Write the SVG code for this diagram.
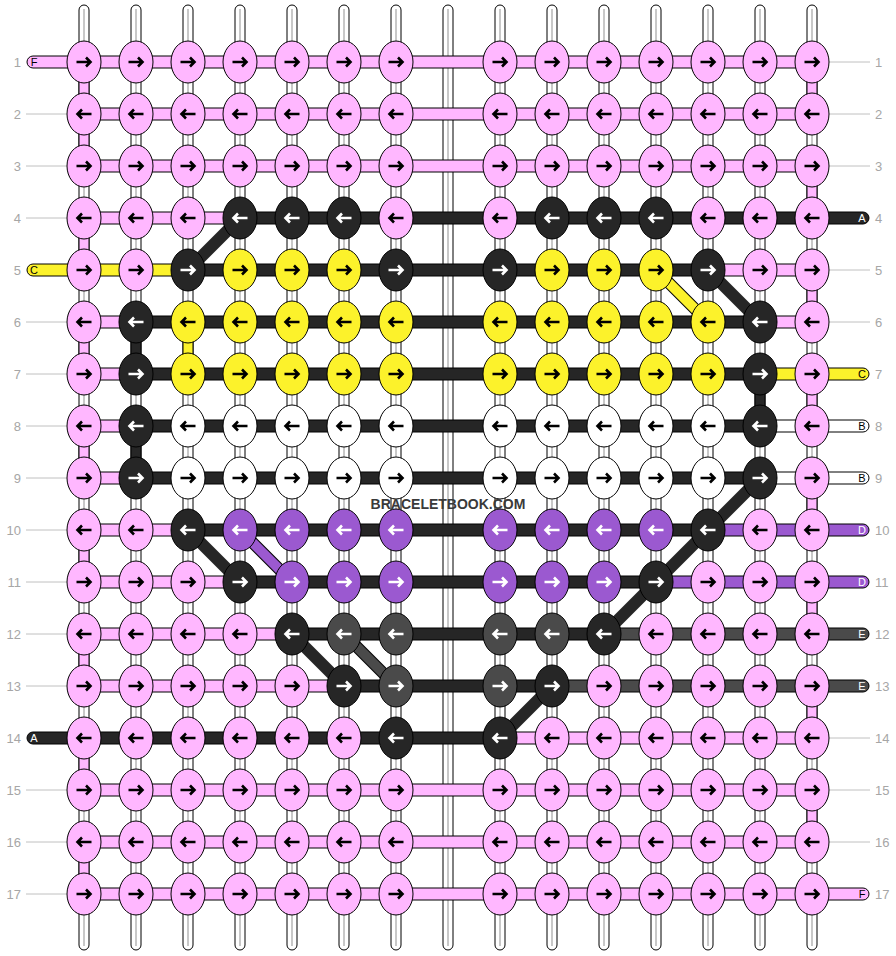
<svg xmlns="http://www.w3.org/2000/svg" width="896" height="956" viewBox="0 0 896 956">
<style>
rect,ellipse,.cap{stroke:#000;stroke-width:1}
.p{fill:#ffb7ff}.y{fill:#fcf22b}.b{fill:#262626}.g{fill:#4a4a4a}.u{fill:#9b59d0}.w{fill:#fff}
.t{fill:#fff}
.tl{stroke:#c8c8c8;stroke-width:2}
use{fill:none;stroke:#000;stroke-width:2.6}
.b use,.g use,.u use{stroke:#fff}
.ll{stroke:#c0c0c0;stroke-width:1}
.lbl{font-family:"Liberation Sans",Arial,sans-serif;font-size:13px;fill:#a6a6a6}
.le{text-anchor:end}
.cl{font-family:"Liberation Sans",Arial,sans-serif;font-size:11px;text-anchor:middle;fill:#000}
.cw{fill:#fff}
.dk{stroke:#262626;stroke-width:12}
.do{stroke:#000;stroke-width:12}
.dy{stroke:#fcf22b;stroke-width:10}
.du{stroke:#9b59d0;stroke-width:10}
.dg{stroke:#4a4a4a;stroke-width:10}
.wm{font-family:"Liberation Sans",Arial,sans-serif;font-size:14px;font-weight:bold;fill:#3a3a3a;text-anchor:middle}
</style>
<defs>
<path id="R" d="M-7.5,0H6.5M2,-4.5L6.5,0L2,4.5"/>
<path id="L" d="M7.5,0H-6.5M-2,-4.5L-6.5,0L-2,4.5"/>
</defs>
<g id="connectors">
<g id="tubes">
<rect class="t" x="79" y="5" width="10" height="945" rx="5"/><line class="tl" x1="84" y1="9" x2="84" y2="946"/>
<rect class="t" x="131" y="5" width="10" height="945" rx="5"/><line class="tl" x1="136" y1="9" x2="136" y2="946"/>
<rect class="t" x="183" y="5" width="10" height="945" rx="5"/><line class="tl" x1="188" y1="9" x2="188" y2="946"/>
<rect class="t" x="235" y="5" width="10" height="945" rx="5"/><line class="tl" x1="240" y1="9" x2="240" y2="946"/>
<rect class="t" x="287" y="5" width="10" height="945" rx="5"/><line class="tl" x1="292" y1="9" x2="292" y2="946"/>
<rect class="t" x="339" y="5" width="10" height="945" rx="5"/><line class="tl" x1="344" y1="9" x2="344" y2="946"/>
<rect class="t" x="391" y="5" width="10" height="945" rx="5"/><line class="tl" x1="396" y1="9" x2="396" y2="946"/>
<rect class="t" x="443" y="5" width="10" height="945" rx="5"/><line class="tl" x1="448" y1="9" x2="448" y2="946"/>
<rect class="t" x="495" y="5" width="10" height="945" rx="5"/><line class="tl" x1="500" y1="9" x2="500" y2="946"/>
<rect class="t" x="547" y="5" width="10" height="945" rx="5"/><line class="tl" x1="552" y1="9" x2="552" y2="946"/>
<rect class="t" x="599" y="5" width="10" height="945" rx="5"/><line class="tl" x1="604" y1="9" x2="604" y2="946"/>
<rect class="t" x="651" y="5" width="10" height="945" rx="5"/><line class="tl" x1="656" y1="9" x2="656" y2="946"/>
<rect class="t" x="703" y="5" width="10" height="945" rx="5"/><line class="tl" x1="708" y1="9" x2="708" y2="946"/>
<rect class="t" x="755" y="5" width="10" height="945" rx="5"/><line class="tl" x1="760" y1="9" x2="760" y2="946"/>
<rect class="t" x="807" y="5" width="10" height="945" rx="5"/><line class="tl" x1="812" y1="9" x2="812" y2="946"/>
</g>
<g id="labellines">
<line class="ll" x1="26" y1="114" x2="84" y2="114"/><line class="ll" x1="26" y1="166" x2="84" y2="166"/><line class="ll" x1="26" y1="218" x2="84" y2="218"/>
<line class="ll" x1="26" y1="322" x2="84" y2="322"/><line class="ll" x1="26" y1="374" x2="84" y2="374"/><line class="ll" x1="26" y1="426" x2="84" y2="426"/>
<line class="ll" x1="26" y1="478" x2="84" y2="478"/><line class="ll" x1="26" y1="530" x2="84" y2="530"/><line class="ll" x1="26" y1="582" x2="84" y2="582"/>
<line class="ll" x1="26" y1="634" x2="84" y2="634"/><line class="ll" x1="26" y1="686" x2="84" y2="686"/><line class="ll" x1="26" y1="790" x2="84" y2="790"/>
<line class="ll" x1="26" y1="842" x2="84" y2="842"/><line class="ll" x1="26" y1="894" x2="84" y2="894"/>
<line class="ll" x1="812" y1="62" x2="870" y2="62"/><line class="ll" x1="812" y1="114" x2="870" y2="114"/><line class="ll" x1="812" y1="166" x2="870" y2="166"/>
<line class="ll" x1="812" y1="270" x2="870" y2="270"/><line class="ll" x1="812" y1="322" x2="870" y2="322"/><line class="ll" x1="812" y1="738" x2="870" y2="738"/>
<line class="ll" x1="812" y1="790" x2="870" y2="790"/><line class="ll" x1="812" y1="842" x2="870" y2="842"/>
</g>
<g id="verticals">
<rect class="p" x="79" y="62" width="10" height="52"/><rect class="p" x="79" y="114" width="10" height="52"/>
<rect class="p" x="79" y="218" width="10" height="52"/><rect class="p" x="79" y="322" width="10" height="52"/>
<rect class="p" x="79" y="426" width="10" height="52"/><rect class="p" x="79" y="530" width="10" height="52"/>
<rect class="p" x="79" y="634" width="10" height="52"/><rect class="p" x="79" y="738" width="10" height="52"/>
<rect class="p" x="79" y="842" width="10" height="52"/>
<rect class="p" x="807" y="62" width="10" height="52"/><rect class="p" x="807" y="166" width="10" height="52"/>
<rect class="p" x="807" y="270" width="10" height="52"/><rect class="p" x="807" y="374" width="10" height="52"/>
<rect class="p" x="807" y="478" width="10" height="52"/><rect class="p" x="807" y="582" width="10" height="52"/>
<rect class="p" x="807" y="686" width="10" height="52"/><rect class="p" x="807" y="790" width="10" height="52"/>
<rect class="b" x="131" y="322" width="10" height="52"/><rect class="b" x="131" y="426" width="10" height="52"/>
<rect class="y" x="183" y="322" width="10" height="52"/><rect class="b" x="755" y="374" width="10" height="52"/>
</g>
<g id="ends">
<path class="cap p" d="M84,56H33A6,6 0 0 0 33,68H84Z"/>
<path class="cap y" d="M84,264H33A6,6 0 0 0 33,276H84Z"/>
<path class="cap b" d="M84,732H33A6,6 0 0 0 33,744H84Z"/>
<path class="cap b" d="M812,212H863A6,6 0 0 1 863,224H812Z"/>
<path class="cap y" d="M812,368H863A6,6 0 0 1 863,380H812Z"/>
<path class="cap w" d="M812,420H863A6,6 0 0 1 863,432H812Z"/>
<path class="cap w" d="M812,472H863A6,6 0 0 1 863,484H812Z"/>
<path class="cap u" d="M812,524H863A6,6 0 0 1 863,536H812Z"/>
<path class="cap u" d="M812,576H863A6,6 0 0 1 863,588H812Z"/>
<path class="cap g" d="M812,628H863A6,6 0 0 1 863,640H812Z"/>
<path class="cap g" d="M812,680H863A6,6 0 0 1 863,692H812Z"/>
<path class="cap p" d="M812,888H863A6,6 0 0 1 863,900H812Z"/>
</g>
<g id="bands">
<rect class="p" x="84" y="56" width="728" height="12"/>
<rect class="p" x="84" y="108" width="728" height="12"/>
<rect class="p" x="84" y="160" width="728" height="12"/>
<rect class="p" x="84" y="212" width="156" height="12"/><rect class="b" x="240" y="212" width="572" height="12"/>
<rect class="y" x="84" y="264" width="104" height="12"/><rect class="b" x="188" y="264" width="520" height="12"/><rect class="p" x="708" y="264" width="104" height="12"/>
<rect class="p" x="84" y="316" width="52" height="12"/><rect class="b" x="136" y="316" width="624" height="12"/><rect class="p" x="760" y="316" width="52" height="12"/>
<rect class="p" x="84" y="368" width="52" height="12"/><rect class="b" x="136" y="368" width="624" height="12"/><rect class="y" x="760" y="368" width="52" height="12"/>
<rect class="p" x="84" y="420" width="52" height="12"/><rect class="b" x="136" y="420" width="624" height="12"/><rect class="w" x="760" y="420" width="52" height="12"/>
<rect class="p" x="84" y="472" width="52" height="12"/><rect class="b" x="136" y="472" width="624" height="12"/><rect class="w" x="760" y="472" width="52" height="12"/>
<rect class="p" x="84" y="524" width="104" height="12"/><rect class="b" x="188" y="524" width="520" height="12"/><rect class="u" x="708" y="524" width="104" height="12"/>
<rect class="p" x="84" y="576" width="156" height="12"/><rect class="b" x="240" y="576" width="416" height="12"/><rect class="u" x="656" y="576" width="156" height="12"/>
<rect class="p" x="84" y="628" width="208" height="12"/><rect class="b" x="292" y="628" width="312" height="12"/><rect class="g" x="604" y="628" width="208" height="12"/>
<rect class="p" x="84" y="680" width="260" height="12"/><rect class="b" x="344" y="680" width="208" height="12"/><rect class="g" x="552" y="680" width="260" height="12"/>
<rect class="b" x="84" y="732" width="416" height="12"/><rect class="p" x="500" y="732" width="312" height="12"/>
<rect class="p" x="84" y="784" width="728" height="12"/>
<rect class="p" x="84" y="836" width="728" height="12"/>
<rect class="p" x="84" y="888" width="728" height="12"/>
</g>
<g id="diagonals">
<line class="dk" x1="188" y1="270" x2="240" y2="218"/>
<line class="do" x1="656" y1="270" x2="708" y2="322"/><line class="dy" x1="656" y1="270" x2="708" y2="322"/>
<line class="dk" x1="708" y1="270" x2="760" y2="322"/>
<line class="dk" x1="760" y1="478" x2="708" y2="530"/>
<line class="dk" x1="188" y1="530" x2="240" y2="582"/>
<line class="do" x1="240" y1="530" x2="292" y2="582"/><line class="du" x1="240" y1="530" x2="292" y2="582"/>
<line class="dk" x1="708" y1="530" x2="656" y2="582"/>
<line class="dk" x1="656" y1="582" x2="604" y2="634"/>
<line class="dk" x1="292" y1="634" x2="344" y2="686"/>
<line class="do" x1="344" y1="634" x2="396" y2="686"/><line class="dg" x1="344" y1="634" x2="396" y2="686"/>
<line class="dk" x1="552" y1="686" x2="500" y2="738"/>
</g>
</g>
<g id="labels">
<text class="lbl le" x="21" y="66.5">1</text><text class="lbl le" x="21" y="118.5">2</text><text class="lbl le" x="21" y="170.5">3</text>
<text class="lbl le" x="21" y="222.5">4</text><text class="lbl le" x="21" y="274.5">5</text><text class="lbl le" x="21" y="326.5">6</text>
<text class="lbl le" x="21" y="378.5">7</text><text class="lbl le" x="21" y="430.5">8</text><text class="lbl le" x="21" y="482.5">9</text>
<text class="lbl le" x="21" y="534.5">10</text><text class="lbl le" x="21" y="586.5">11</text><text class="lbl le" x="21" y="638.5">12</text>
<text class="lbl le" x="21" y="690.5">13</text><text class="lbl le" x="21" y="742.5">14</text><text class="lbl le" x="21" y="794.5">15</text>
<text class="lbl le" x="21" y="846.5">16</text><text class="lbl le" x="21" y="898.5">17</text>
<text class="lbl" x="875" y="66.5">1</text><text class="lbl" x="875" y="118.5">2</text><text class="lbl" x="875" y="170.5">3</text>
<text class="lbl" x="875" y="222.5">4</text><text class="lbl" x="875" y="274.5">5</text><text class="lbl" x="875" y="326.5">6</text>
<text class="lbl" x="875" y="378.5">7</text><text class="lbl" x="875" y="430.5">8</text><text class="lbl" x="875" y="482.5">9</text>
<text class="lbl" x="875" y="534.5">10</text><text class="lbl" x="875" y="586.5">11</text><text class="lbl" x="875" y="638.5">12</text>
<text class="lbl" x="875" y="690.5">13</text><text class="lbl" x="875" y="742.5">14</text><text class="lbl" x="875" y="794.5">15</text>
<text class="lbl" x="875" y="846.5">16</text><text class="lbl" x="875" y="898.5">17</text>
<text class="cl" x="34" y="66">F</text><text class="cl" x="34" y="274">C</text><text class="cl cw" x="34" y="742">A</text>
<text class="cl cw" x="862" y="222">A</text><text class="cl" x="862" y="378">C</text><text class="cl" x="862" y="430">B</text>
<text class="cl" x="862" y="482">B</text><text class="cl cw" x="862" y="534">D</text><text class="cl cw" x="862" y="586">D</text>
<text class="cl cw" x="862" y="638">E</text><text class="cl cw" x="862" y="690">E</text><text class="cl" x="862" y="898">F</text>
</g>
<g id="knots">
<g id="n1-1" class="p"><ellipse cx="84" cy="62" rx="17" ry="21"/><use href="#R" x="84" y="62"/></g>
<g id="n1-2" class="p"><ellipse cx="136" cy="62" rx="17" ry="21"/><use href="#R" x="136" y="62"/></g>
<g id="n1-3" class="p"><ellipse cx="188" cy="62" rx="17" ry="21"/><use href="#R" x="188" y="62"/></g>
<g id="n1-4" class="p"><ellipse cx="240" cy="62" rx="17" ry="21"/><use href="#R" x="240" y="62"/></g>
<g id="n1-5" class="p"><ellipse cx="292" cy="62" rx="17" ry="21"/><use href="#R" x="292" y="62"/></g>
<g id="n1-6" class="p"><ellipse cx="344" cy="62" rx="17" ry="21"/><use href="#R" x="344" y="62"/></g>
<g id="n1-7" class="p"><ellipse cx="396" cy="62" rx="17" ry="21"/><use href="#R" x="396" y="62"/></g>
<g id="n1-8" class="p"><ellipse cx="500" cy="62" rx="17" ry="21"/><use href="#R" x="500" y="62"/></g>
<g id="n1-9" class="p"><ellipse cx="552" cy="62" rx="17" ry="21"/><use href="#R" x="552" y="62"/></g>
<g id="n1-10" class="p"><ellipse cx="604" cy="62" rx="17" ry="21"/><use href="#R" x="604" y="62"/></g>
<g id="n1-11" class="p"><ellipse cx="656" cy="62" rx="17" ry="21"/><use href="#R" x="656" y="62"/></g>
<g id="n1-12" class="p"><ellipse cx="708" cy="62" rx="17" ry="21"/><use href="#R" x="708" y="62"/></g>
<g id="n1-13" class="p"><ellipse cx="760" cy="62" rx="17" ry="21"/><use href="#R" x="760" y="62"/></g>
<g id="n1-14" class="p"><ellipse cx="812" cy="62" rx="17" ry="21"/><use href="#R" x="812" y="62"/></g>
<g id="n2-1" class="p"><ellipse cx="84" cy="114" rx="17" ry="21"/><use href="#L" x="84" y="114"/></g>
<g id="n2-2" class="p"><ellipse cx="136" cy="114" rx="17" ry="21"/><use href="#L" x="136" y="114"/></g>
<g id="n2-3" class="p"><ellipse cx="188" cy="114" rx="17" ry="21"/><use href="#L" x="188" y="114"/></g>
<g id="n2-4" class="p"><ellipse cx="240" cy="114" rx="17" ry="21"/><use href="#L" x="240" y="114"/></g>
<g id="n2-5" class="p"><ellipse cx="292" cy="114" rx="17" ry="21"/><use href="#L" x="292" y="114"/></g>
<g id="n2-6" class="p"><ellipse cx="344" cy="114" rx="17" ry="21"/><use href="#L" x="344" y="114"/></g>
<g id="n2-7" class="p"><ellipse cx="396" cy="114" rx="17" ry="21"/><use href="#L" x="396" y="114"/></g>
<g id="n2-8" class="p"><ellipse cx="500" cy="114" rx="17" ry="21"/><use href="#L" x="500" y="114"/></g>
<g id="n2-9" class="p"><ellipse cx="552" cy="114" rx="17" ry="21"/><use href="#L" x="552" y="114"/></g>
<g id="n2-10" class="p"><ellipse cx="604" cy="114" rx="17" ry="21"/><use href="#L" x="604" y="114"/></g>
<g id="n2-11" class="p"><ellipse cx="656" cy="114" rx="17" ry="21"/><use href="#L" x="656" y="114"/></g>
<g id="n2-12" class="p"><ellipse cx="708" cy="114" rx="17" ry="21"/><use href="#L" x="708" y="114"/></g>
<g id="n2-13" class="p"><ellipse cx="760" cy="114" rx="17" ry="21"/><use href="#L" x="760" y="114"/></g>
<g id="n2-14" class="p"><ellipse cx="812" cy="114" rx="17" ry="21"/><use href="#L" x="812" y="114"/></g>
<g id="n3-1" class="p"><ellipse cx="84" cy="166" rx="17" ry="21"/><use href="#R" x="84" y="166"/></g>
<g id="n3-2" class="p"><ellipse cx="136" cy="166" rx="17" ry="21"/><use href="#R" x="136" y="166"/></g>
<g id="n3-3" class="p"><ellipse cx="188" cy="166" rx="17" ry="21"/><use href="#R" x="188" y="166"/></g>
<g id="n3-4" class="p"><ellipse cx="240" cy="166" rx="17" ry="21"/><use href="#R" x="240" y="166"/></g>
<g id="n3-5" class="p"><ellipse cx="292" cy="166" rx="17" ry="21"/><use href="#R" x="292" y="166"/></g>
<g id="n3-6" class="p"><ellipse cx="344" cy="166" rx="17" ry="21"/><use href="#R" x="344" y="166"/></g>
<g id="n3-7" class="p"><ellipse cx="396" cy="166" rx="17" ry="21"/><use href="#R" x="396" y="166"/></g>
<g id="n3-8" class="p"><ellipse cx="500" cy="166" rx="17" ry="21"/><use href="#R" x="500" y="166"/></g>
<g id="n3-9" class="p"><ellipse cx="552" cy="166" rx="17" ry="21"/><use href="#R" x="552" y="166"/></g>
<g id="n3-10" class="p"><ellipse cx="604" cy="166" rx="17" ry="21"/><use href="#R" x="604" y="166"/></g>
<g id="n3-11" class="p"><ellipse cx="656" cy="166" rx="17" ry="21"/><use href="#R" x="656" y="166"/></g>
<g id="n3-12" class="p"><ellipse cx="708" cy="166" rx="17" ry="21"/><use href="#R" x="708" y="166"/></g>
<g id="n3-13" class="p"><ellipse cx="760" cy="166" rx="17" ry="21"/><use href="#R" x="760" y="166"/></g>
<g id="n3-14" class="p"><ellipse cx="812" cy="166" rx="17" ry="21"/><use href="#R" x="812" y="166"/></g>
<g id="n4-1" class="p"><ellipse cx="84" cy="218" rx="17" ry="21"/><use href="#L" x="84" y="218"/></g>
<g id="n4-2" class="p"><ellipse cx="136" cy="218" rx="17" ry="21"/><use href="#L" x="136" y="218"/></g>
<g id="n4-3" class="p"><ellipse cx="188" cy="218" rx="17" ry="21"/><use href="#L" x="188" y="218"/></g>
<g id="n4-4" class="b"><ellipse cx="240" cy="218" rx="17" ry="21"/><use href="#L" x="240" y="218"/></g>
<g id="n4-5" class="b"><ellipse cx="292" cy="218" rx="17" ry="21"/><use href="#L" x="292" y="218"/></g>
<g id="n4-6" class="b"><ellipse cx="344" cy="218" rx="17" ry="21"/><use href="#L" x="344" y="218"/></g>
<g id="n4-7" class="p"><ellipse cx="396" cy="218" rx="17" ry="21"/><use href="#L" x="396" y="218"/></g>
<g id="n4-8" class="p"><ellipse cx="500" cy="218" rx="17" ry="21"/><use href="#L" x="500" y="218"/></g>
<g id="n4-9" class="b"><ellipse cx="552" cy="218" rx="17" ry="21"/><use href="#L" x="552" y="218"/></g>
<g id="n4-10" class="b"><ellipse cx="604" cy="218" rx="17" ry="21"/><use href="#L" x="604" y="218"/></g>
<g id="n4-11" class="b"><ellipse cx="656" cy="218" rx="17" ry="21"/><use href="#L" x="656" y="218"/></g>
<g id="n4-12" class="p"><ellipse cx="708" cy="218" rx="17" ry="21"/><use href="#L" x="708" y="218"/></g>
<g id="n4-13" class="p"><ellipse cx="760" cy="218" rx="17" ry="21"/><use href="#L" x="760" y="218"/></g>
<g id="n4-14" class="p"><ellipse cx="812" cy="218" rx="17" ry="21"/><use href="#L" x="812" y="218"/></g>
<g id="n5-1" class="p"><ellipse cx="84" cy="270" rx="17" ry="21"/><use href="#R" x="84" y="270"/></g>
<g id="n5-2" class="p"><ellipse cx="136" cy="270" rx="17" ry="21"/><use href="#R" x="136" y="270"/></g>
<g id="n5-3" class="b"><ellipse cx="188" cy="270" rx="17" ry="21"/><use href="#R" x="188" y="270"/></g>
<g id="n5-4" class="y"><ellipse cx="240" cy="270" rx="17" ry="21"/><use href="#R" x="240" y="270"/></g>
<g id="n5-5" class="y"><ellipse cx="292" cy="270" rx="17" ry="21"/><use href="#R" x="292" y="270"/></g>
<g id="n5-6" class="y"><ellipse cx="344" cy="270" rx="17" ry="21"/><use href="#R" x="344" y="270"/></g>
<g id="n5-7" class="b"><ellipse cx="396" cy="270" rx="17" ry="21"/><use href="#R" x="396" y="270"/></g>
<g id="n5-8" class="b"><ellipse cx="500" cy="270" rx="17" ry="21"/><use href="#R" x="500" y="270"/></g>
<g id="n5-9" class="y"><ellipse cx="552" cy="270" rx="17" ry="21"/><use href="#R" x="552" y="270"/></g>
<g id="n5-10" class="y"><ellipse cx="604" cy="270" rx="17" ry="21"/><use href="#R" x="604" y="270"/></g>
<g id="n5-11" class="y"><ellipse cx="656" cy="270" rx="17" ry="21"/><use href="#R" x="656" y="270"/></g>
<g id="n5-12" class="b"><ellipse cx="708" cy="270" rx="17" ry="21"/><use href="#R" x="708" y="270"/></g>
<g id="n5-13" class="p"><ellipse cx="760" cy="270" rx="17" ry="21"/><use href="#R" x="760" y="270"/></g>
<g id="n5-14" class="p"><ellipse cx="812" cy="270" rx="17" ry="21"/><use href="#R" x="812" y="270"/></g>
<g id="n6-1" class="p"><ellipse cx="84" cy="322" rx="17" ry="21"/><use href="#L" x="84" y="322"/></g>
<g id="n6-2" class="b"><ellipse cx="136" cy="322" rx="17" ry="21"/><use href="#L" x="136" y="322"/></g>
<g id="n6-3" class="y"><ellipse cx="188" cy="322" rx="17" ry="21"/><use href="#L" x="188" y="322"/></g>
<g id="n6-4" class="y"><ellipse cx="240" cy="322" rx="17" ry="21"/><use href="#L" x="240" y="322"/></g>
<g id="n6-5" class="y"><ellipse cx="292" cy="322" rx="17" ry="21"/><use href="#L" x="292" y="322"/></g>
<g id="n6-6" class="y"><ellipse cx="344" cy="322" rx="17" ry="21"/><use href="#L" x="344" y="322"/></g>
<g id="n6-7" class="y"><ellipse cx="396" cy="322" rx="17" ry="21"/><use href="#L" x="396" y="322"/></g>
<g id="n6-8" class="y"><ellipse cx="500" cy="322" rx="17" ry="21"/><use href="#L" x="500" y="322"/></g>
<g id="n6-9" class="y"><ellipse cx="552" cy="322" rx="17" ry="21"/><use href="#L" x="552" y="322"/></g>
<g id="n6-10" class="y"><ellipse cx="604" cy="322" rx="17" ry="21"/><use href="#L" x="604" y="322"/></g>
<g id="n6-11" class="y"><ellipse cx="656" cy="322" rx="17" ry="21"/><use href="#L" x="656" y="322"/></g>
<g id="n6-12" class="y"><ellipse cx="708" cy="322" rx="17" ry="21"/><use href="#L" x="708" y="322"/></g>
<g id="n6-13" class="b"><ellipse cx="760" cy="322" rx="17" ry="21"/><use href="#L" x="760" y="322"/></g>
<g id="n6-14" class="p"><ellipse cx="812" cy="322" rx="17" ry="21"/><use href="#L" x="812" y="322"/></g>
<g id="n7-1" class="p"><ellipse cx="84" cy="374" rx="17" ry="21"/><use href="#R" x="84" y="374"/></g>
<g id="n7-2" class="b"><ellipse cx="136" cy="374" rx="17" ry="21"/><use href="#R" x="136" y="374"/></g>
<g id="n7-3" class="y"><ellipse cx="188" cy="374" rx="17" ry="21"/><use href="#R" x="188" y="374"/></g>
<g id="n7-4" class="y"><ellipse cx="240" cy="374" rx="17" ry="21"/><use href="#R" x="240" y="374"/></g>
<g id="n7-5" class="y"><ellipse cx="292" cy="374" rx="17" ry="21"/><use href="#R" x="292" y="374"/></g>
<g id="n7-6" class="y"><ellipse cx="344" cy="374" rx="17" ry="21"/><use href="#R" x="344" y="374"/></g>
<g id="n7-7" class="y"><ellipse cx="396" cy="374" rx="17" ry="21"/><use href="#R" x="396" y="374"/></g>
<g id="n7-8" class="y"><ellipse cx="500" cy="374" rx="17" ry="21"/><use href="#R" x="500" y="374"/></g>
<g id="n7-9" class="y"><ellipse cx="552" cy="374" rx="17" ry="21"/><use href="#R" x="552" y="374"/></g>
<g id="n7-10" class="y"><ellipse cx="604" cy="374" rx="17" ry="21"/><use href="#R" x="604" y="374"/></g>
<g id="n7-11" class="y"><ellipse cx="656" cy="374" rx="17" ry="21"/><use href="#R" x="656" y="374"/></g>
<g id="n7-12" class="y"><ellipse cx="708" cy="374" rx="17" ry="21"/><use href="#R" x="708" y="374"/></g>
<g id="n7-13" class="b"><ellipse cx="760" cy="374" rx="17" ry="21"/><use href="#R" x="760" y="374"/></g>
<g id="n7-14" class="p"><ellipse cx="812" cy="374" rx="17" ry="21"/><use href="#R" x="812" y="374"/></g>
<g id="n8-1" class="p"><ellipse cx="84" cy="426" rx="17" ry="21"/><use href="#L" x="84" y="426"/></g>
<g id="n8-2" class="b"><ellipse cx="136" cy="426" rx="17" ry="21"/><use href="#L" x="136" y="426"/></g>
<g id="n8-3" class="w"><ellipse cx="188" cy="426" rx="17" ry="21"/><use href="#L" x="188" y="426"/></g>
<g id="n8-4" class="w"><ellipse cx="240" cy="426" rx="17" ry="21"/><use href="#L" x="240" y="426"/></g>
<g id="n8-5" class="w"><ellipse cx="292" cy="426" rx="17" ry="21"/><use href="#L" x="292" y="426"/></g>
<g id="n8-6" class="w"><ellipse cx="344" cy="426" rx="17" ry="21"/><use href="#L" x="344" y="426"/></g>
<g id="n8-7" class="w"><ellipse cx="396" cy="426" rx="17" ry="21"/><use href="#L" x="396" y="426"/></g>
<g id="n8-8" class="w"><ellipse cx="500" cy="426" rx="17" ry="21"/><use href="#L" x="500" y="426"/></g>
<g id="n8-9" class="w"><ellipse cx="552" cy="426" rx="17" ry="21"/><use href="#L" x="552" y="426"/></g>
<g id="n8-10" class="w"><ellipse cx="604" cy="426" rx="17" ry="21"/><use href="#L" x="604" y="426"/></g>
<g id="n8-11" class="w"><ellipse cx="656" cy="426" rx="17" ry="21"/><use href="#L" x="656" y="426"/></g>
<g id="n8-12" class="w"><ellipse cx="708" cy="426" rx="17" ry="21"/><use href="#L" x="708" y="426"/></g>
<g id="n8-13" class="b"><ellipse cx="760" cy="426" rx="17" ry="21"/><use href="#L" x="760" y="426"/></g>
<g id="n8-14" class="p"><ellipse cx="812" cy="426" rx="17" ry="21"/><use href="#L" x="812" y="426"/></g>
<g id="n9-1" class="p"><ellipse cx="84" cy="478" rx="17" ry="21"/><use href="#R" x="84" y="478"/></g>
<g id="n9-2" class="b"><ellipse cx="136" cy="478" rx="17" ry="21"/><use href="#R" x="136" y="478"/></g>
<g id="n9-3" class="w"><ellipse cx="188" cy="478" rx="17" ry="21"/><use href="#R" x="188" y="478"/></g>
<g id="n9-4" class="w"><ellipse cx="240" cy="478" rx="17" ry="21"/><use href="#R" x="240" y="478"/></g>
<g id="n9-5" class="w"><ellipse cx="292" cy="478" rx="17" ry="21"/><use href="#R" x="292" y="478"/></g>
<g id="n9-6" class="w"><ellipse cx="344" cy="478" rx="17" ry="21"/><use href="#R" x="344" y="478"/></g>
<g id="n9-7" class="w"><ellipse cx="396" cy="478" rx="17" ry="21"/><use href="#R" x="396" y="478"/></g>
<g id="n9-8" class="w"><ellipse cx="500" cy="478" rx="17" ry="21"/><use href="#R" x="500" y="478"/></g>
<g id="n9-9" class="w"><ellipse cx="552" cy="478" rx="17" ry="21"/><use href="#R" x="552" y="478"/></g>
<g id="n9-10" class="w"><ellipse cx="604" cy="478" rx="17" ry="21"/><use href="#R" x="604" y="478"/></g>
<g id="n9-11" class="w"><ellipse cx="656" cy="478" rx="17" ry="21"/><use href="#R" x="656" y="478"/></g>
<g id="n9-12" class="w"><ellipse cx="708" cy="478" rx="17" ry="21"/><use href="#R" x="708" y="478"/></g>
<g id="n9-13" class="b"><ellipse cx="760" cy="478" rx="17" ry="21"/><use href="#R" x="760" y="478"/></g>
<g id="n9-14" class="p"><ellipse cx="812" cy="478" rx="17" ry="21"/><use href="#R" x="812" y="478"/></g>
<g id="n10-1" class="p"><ellipse cx="84" cy="530" rx="17" ry="21"/><use href="#L" x="84" y="530"/></g>
<g id="n10-2" class="p"><ellipse cx="136" cy="530" rx="17" ry="21"/><use href="#L" x="136" y="530"/></g>
<g id="n10-3" class="b"><ellipse cx="188" cy="530" rx="17" ry="21"/><use href="#L" x="188" y="530"/></g>
<g id="n10-4" class="u"><ellipse cx="240" cy="530" rx="17" ry="21"/><use href="#L" x="240" y="530"/></g>
<g id="n10-5" class="u"><ellipse cx="292" cy="530" rx="17" ry="21"/><use href="#L" x="292" y="530"/></g>
<g id="n10-6" class="u"><ellipse cx="344" cy="530" rx="17" ry="21"/><use href="#L" x="344" y="530"/></g>
<g id="n10-7" class="u"><ellipse cx="396" cy="530" rx="17" ry="21"/><use href="#L" x="396" y="530"/></g>
<g id="n10-8" class="u"><ellipse cx="500" cy="530" rx="17" ry="21"/><use href="#L" x="500" y="530"/></g>
<g id="n10-9" class="u"><ellipse cx="552" cy="530" rx="17" ry="21"/><use href="#L" x="552" y="530"/></g>
<g id="n10-10" class="u"><ellipse cx="604" cy="530" rx="17" ry="21"/><use href="#L" x="604" y="530"/></g>
<g id="n10-11" class="u"><ellipse cx="656" cy="530" rx="17" ry="21"/><use href="#L" x="656" y="530"/></g>
<g id="n10-12" class="b"><ellipse cx="708" cy="530" rx="17" ry="21"/><use href="#L" x="708" y="530"/></g>
<g id="n10-13" class="p"><ellipse cx="760" cy="530" rx="17" ry="21"/><use href="#L" x="760" y="530"/></g>
<g id="n10-14" class="p"><ellipse cx="812" cy="530" rx="17" ry="21"/><use href="#L" x="812" y="530"/></g>
<g id="n11-1" class="p"><ellipse cx="84" cy="582" rx="17" ry="21"/><use href="#R" x="84" y="582"/></g>
<g id="n11-2" class="p"><ellipse cx="136" cy="582" rx="17" ry="21"/><use href="#R" x="136" y="582"/></g>
<g id="n11-3" class="p"><ellipse cx="188" cy="582" rx="17" ry="21"/><use href="#R" x="188" y="582"/></g>
<g id="n11-4" class="b"><ellipse cx="240" cy="582" rx="17" ry="21"/><use href="#R" x="240" y="582"/></g>
<g id="n11-5" class="u"><ellipse cx="292" cy="582" rx="17" ry="21"/><use href="#R" x="292" y="582"/></g>
<g id="n11-6" class="u"><ellipse cx="344" cy="582" rx="17" ry="21"/><use href="#R" x="344" y="582"/></g>
<g id="n11-7" class="u"><ellipse cx="396" cy="582" rx="17" ry="21"/><use href="#R" x="396" y="582"/></g>
<g id="n11-8" class="u"><ellipse cx="500" cy="582" rx="17" ry="21"/><use href="#R" x="500" y="582"/></g>
<g id="n11-9" class="u"><ellipse cx="552" cy="582" rx="17" ry="21"/><use href="#R" x="552" y="582"/></g>
<g id="n11-10" class="u"><ellipse cx="604" cy="582" rx="17" ry="21"/><use href="#R" x="604" y="582"/></g>
<g id="n11-11" class="b"><ellipse cx="656" cy="582" rx="17" ry="21"/><use href="#R" x="656" y="582"/></g>
<g id="n11-12" class="p"><ellipse cx="708" cy="582" rx="17" ry="21"/><use href="#R" x="708" y="582"/></g>
<g id="n11-13" class="p"><ellipse cx="760" cy="582" rx="17" ry="21"/><use href="#R" x="760" y="582"/></g>
<g id="n11-14" class="p"><ellipse cx="812" cy="582" rx="17" ry="21"/><use href="#R" x="812" y="582"/></g>
<g id="n12-1" class="p"><ellipse cx="84" cy="634" rx="17" ry="21"/><use href="#L" x="84" y="634"/></g>
<g id="n12-2" class="p"><ellipse cx="136" cy="634" rx="17" ry="21"/><use href="#L" x="136" y="634"/></g>
<g id="n12-3" class="p"><ellipse cx="188" cy="634" rx="17" ry="21"/><use href="#L" x="188" y="634"/></g>
<g id="n12-4" class="p"><ellipse cx="240" cy="634" rx="17" ry="21"/><use href="#L" x="240" y="634"/></g>
<g id="n12-5" class="b"><ellipse cx="292" cy="634" rx="17" ry="21"/><use href="#L" x="292" y="634"/></g>
<g id="n12-6" class="g"><ellipse cx="344" cy="634" rx="17" ry="21"/><use href="#L" x="344" y="634"/></g>
<g id="n12-7" class="g"><ellipse cx="396" cy="634" rx="17" ry="21"/><use href="#L" x="396" y="634"/></g>
<g id="n12-8" class="g"><ellipse cx="500" cy="634" rx="17" ry="21"/><use href="#L" x="500" y="634"/></g>
<g id="n12-9" class="g"><ellipse cx="552" cy="634" rx="17" ry="21"/><use href="#L" x="552" y="634"/></g>
<g id="n12-10" class="b"><ellipse cx="604" cy="634" rx="17" ry="21"/><use href="#L" x="604" y="634"/></g>
<g id="n12-11" class="p"><ellipse cx="656" cy="634" rx="17" ry="21"/><use href="#L" x="656" y="634"/></g>
<g id="n12-12" class="p"><ellipse cx="708" cy="634" rx="17" ry="21"/><use href="#L" x="708" y="634"/></g>
<g id="n12-13" class="p"><ellipse cx="760" cy="634" rx="17" ry="21"/><use href="#L" x="760" y="634"/></g>
<g id="n12-14" class="p"><ellipse cx="812" cy="634" rx="17" ry="21"/><use href="#L" x="812" y="634"/></g>
<g id="n13-1" class="p"><ellipse cx="84" cy="686" rx="17" ry="21"/><use href="#R" x="84" y="686"/></g>
<g id="n13-2" class="p"><ellipse cx="136" cy="686" rx="17" ry="21"/><use href="#R" x="136" y="686"/></g>
<g id="n13-3" class="p"><ellipse cx="188" cy="686" rx="17" ry="21"/><use href="#R" x="188" y="686"/></g>
<g id="n13-4" class="p"><ellipse cx="240" cy="686" rx="17" ry="21"/><use href="#R" x="240" y="686"/></g>
<g id="n13-5" class="p"><ellipse cx="292" cy="686" rx="17" ry="21"/><use href="#R" x="292" y="686"/></g>
<g id="n13-6" class="b"><ellipse cx="344" cy="686" rx="17" ry="21"/><use href="#R" x="344" y="686"/></g>
<g id="n13-7" class="g"><ellipse cx="396" cy="686" rx="17" ry="21"/><use href="#R" x="396" y="686"/></g>
<g id="n13-8" class="g"><ellipse cx="500" cy="686" rx="17" ry="21"/><use href="#R" x="500" y="686"/></g>
<g id="n13-9" class="b"><ellipse cx="552" cy="686" rx="17" ry="21"/><use href="#R" x="552" y="686"/></g>
<g id="n13-10" class="p"><ellipse cx="604" cy="686" rx="17" ry="21"/><use href="#R" x="604" y="686"/></g>
<g id="n13-11" class="p"><ellipse cx="656" cy="686" rx="17" ry="21"/><use href="#R" x="656" y="686"/></g>
<g id="n13-12" class="p"><ellipse cx="708" cy="686" rx="17" ry="21"/><use href="#R" x="708" y="686"/></g>
<g id="n13-13" class="p"><ellipse cx="760" cy="686" rx="17" ry="21"/><use href="#R" x="760" y="686"/></g>
<g id="n13-14" class="p"><ellipse cx="812" cy="686" rx="17" ry="21"/><use href="#R" x="812" y="686"/></g>
<g id="n14-1" class="p"><ellipse cx="84" cy="738" rx="17" ry="21"/><use href="#L" x="84" y="738"/></g>
<g id="n14-2" class="p"><ellipse cx="136" cy="738" rx="17" ry="21"/><use href="#L" x="136" y="738"/></g>
<g id="n14-3" class="p"><ellipse cx="188" cy="738" rx="17" ry="21"/><use href="#L" x="188" y="738"/></g>
<g id="n14-4" class="p"><ellipse cx="240" cy="738" rx="17" ry="21"/><use href="#L" x="240" y="738"/></g>
<g id="n14-5" class="p"><ellipse cx="292" cy="738" rx="17" ry="21"/><use href="#L" x="292" y="738"/></g>
<g id="n14-6" class="p"><ellipse cx="344" cy="738" rx="17" ry="21"/><use href="#L" x="344" y="738"/></g>
<g id="n14-7" class="b"><ellipse cx="396" cy="738" rx="17" ry="21"/><use href="#L" x="396" y="738"/></g>
<g id="n14-8" class="b"><ellipse cx="500" cy="738" rx="17" ry="21"/><use href="#L" x="500" y="738"/></g>
<g id="n14-9" class="p"><ellipse cx="552" cy="738" rx="17" ry="21"/><use href="#L" x="552" y="738"/></g>
<g id="n14-10" class="p"><ellipse cx="604" cy="738" rx="17" ry="21"/><use href="#L" x="604" y="738"/></g>
<g id="n14-11" class="p"><ellipse cx="656" cy="738" rx="17" ry="21"/><use href="#L" x="656" y="738"/></g>
<g id="n14-12" class="p"><ellipse cx="708" cy="738" rx="17" ry="21"/><use href="#L" x="708" y="738"/></g>
<g id="n14-13" class="p"><ellipse cx="760" cy="738" rx="17" ry="21"/><use href="#L" x="760" y="738"/></g>
<g id="n14-14" class="p"><ellipse cx="812" cy="738" rx="17" ry="21"/><use href="#L" x="812" y="738"/></g>
<g id="n15-1" class="p"><ellipse cx="84" cy="790" rx="17" ry="21"/><use href="#R" x="84" y="790"/></g>
<g id="n15-2" class="p"><ellipse cx="136" cy="790" rx="17" ry="21"/><use href="#R" x="136" y="790"/></g>
<g id="n15-3" class="p"><ellipse cx="188" cy="790" rx="17" ry="21"/><use href="#R" x="188" y="790"/></g>
<g id="n15-4" class="p"><ellipse cx="240" cy="790" rx="17" ry="21"/><use href="#R" x="240" y="790"/></g>
<g id="n15-5" class="p"><ellipse cx="292" cy="790" rx="17" ry="21"/><use href="#R" x="292" y="790"/></g>
<g id="n15-6" class="p"><ellipse cx="344" cy="790" rx="17" ry="21"/><use href="#R" x="344" y="790"/></g>
<g id="n15-7" class="p"><ellipse cx="396" cy="790" rx="17" ry="21"/><use href="#R" x="396" y="790"/></g>
<g id="n15-8" class="p"><ellipse cx="500" cy="790" rx="17" ry="21"/><use href="#R" x="500" y="790"/></g>
<g id="n15-9" class="p"><ellipse cx="552" cy="790" rx="17" ry="21"/><use href="#R" x="552" y="790"/></g>
<g id="n15-10" class="p"><ellipse cx="604" cy="790" rx="17" ry="21"/><use href="#R" x="604" y="790"/></g>
<g id="n15-11" class="p"><ellipse cx="656" cy="790" rx="17" ry="21"/><use href="#R" x="656" y="790"/></g>
<g id="n15-12" class="p"><ellipse cx="708" cy="790" rx="17" ry="21"/><use href="#R" x="708" y="790"/></g>
<g id="n15-13" class="p"><ellipse cx="760" cy="790" rx="17" ry="21"/><use href="#R" x="760" y="790"/></g>
<g id="n15-14" class="p"><ellipse cx="812" cy="790" rx="17" ry="21"/><use href="#R" x="812" y="790"/></g>
<g id="n16-1" class="p"><ellipse cx="84" cy="842" rx="17" ry="21"/><use href="#L" x="84" y="842"/></g>
<g id="n16-2" class="p"><ellipse cx="136" cy="842" rx="17" ry="21"/><use href="#L" x="136" y="842"/></g>
<g id="n16-3" class="p"><ellipse cx="188" cy="842" rx="17" ry="21"/><use href="#L" x="188" y="842"/></g>
<g id="n16-4" class="p"><ellipse cx="240" cy="842" rx="17" ry="21"/><use href="#L" x="240" y="842"/></g>
<g id="n16-5" class="p"><ellipse cx="292" cy="842" rx="17" ry="21"/><use href="#L" x="292" y="842"/></g>
<g id="n16-6" class="p"><ellipse cx="344" cy="842" rx="17" ry="21"/><use href="#L" x="344" y="842"/></g>
<g id="n16-7" class="p"><ellipse cx="396" cy="842" rx="17" ry="21"/><use href="#L" x="396" y="842"/></g>
<g id="n16-8" class="p"><ellipse cx="500" cy="842" rx="17" ry="21"/><use href="#L" x="500" y="842"/></g>
<g id="n16-9" class="p"><ellipse cx="552" cy="842" rx="17" ry="21"/><use href="#L" x="552" y="842"/></g>
<g id="n16-10" class="p"><ellipse cx="604" cy="842" rx="17" ry="21"/><use href="#L" x="604" y="842"/></g>
<g id="n16-11" class="p"><ellipse cx="656" cy="842" rx="17" ry="21"/><use href="#L" x="656" y="842"/></g>
<g id="n16-12" class="p"><ellipse cx="708" cy="842" rx="17" ry="21"/><use href="#L" x="708" y="842"/></g>
<g id="n16-13" class="p"><ellipse cx="760" cy="842" rx="17" ry="21"/><use href="#L" x="760" y="842"/></g>
<g id="n16-14" class="p"><ellipse cx="812" cy="842" rx="17" ry="21"/><use href="#L" x="812" y="842"/></g>
<g id="n17-1" class="p"><ellipse cx="84" cy="894" rx="17" ry="21"/><use href="#R" x="84" y="894"/></g>
<g id="n17-2" class="p"><ellipse cx="136" cy="894" rx="17" ry="21"/><use href="#R" x="136" y="894"/></g>
<g id="n17-3" class="p"><ellipse cx="188" cy="894" rx="17" ry="21"/><use href="#R" x="188" y="894"/></g>
<g id="n17-4" class="p"><ellipse cx="240" cy="894" rx="17" ry="21"/><use href="#R" x="240" y="894"/></g>
<g id="n17-5" class="p"><ellipse cx="292" cy="894" rx="17" ry="21"/><use href="#R" x="292" y="894"/></g>
<g id="n17-6" class="p"><ellipse cx="344" cy="894" rx="17" ry="21"/><use href="#R" x="344" y="894"/></g>
<g id="n17-7" class="p"><ellipse cx="396" cy="894" rx="17" ry="21"/><use href="#R" x="396" y="894"/></g>
<g id="n17-8" class="p"><ellipse cx="500" cy="894" rx="17" ry="21"/><use href="#R" x="500" y="894"/></g>
<g id="n17-9" class="p"><ellipse cx="552" cy="894" rx="17" ry="21"/><use href="#R" x="552" y="894"/></g>
<g id="n17-10" class="p"><ellipse cx="604" cy="894" rx="17" ry="21"/><use href="#R" x="604" y="894"/></g>
<g id="n17-11" class="p"><ellipse cx="656" cy="894" rx="17" ry="21"/><use href="#R" x="656" y="894"/></g>
<g id="n17-12" class="p"><ellipse cx="708" cy="894" rx="17" ry="21"/><use href="#R" x="708" y="894"/></g>
<g id="n17-13" class="p"><ellipse cx="760" cy="894" rx="17" ry="21"/><use href="#R" x="760" y="894"/></g>
<g id="n17-14" class="p"><ellipse cx="812" cy="894" rx="17" ry="21"/><use href="#R" x="812" y="894"/></g>
</g>
<text class="wm" x="448" y="509">BRACELETBOOK.COM</text>
</svg>
